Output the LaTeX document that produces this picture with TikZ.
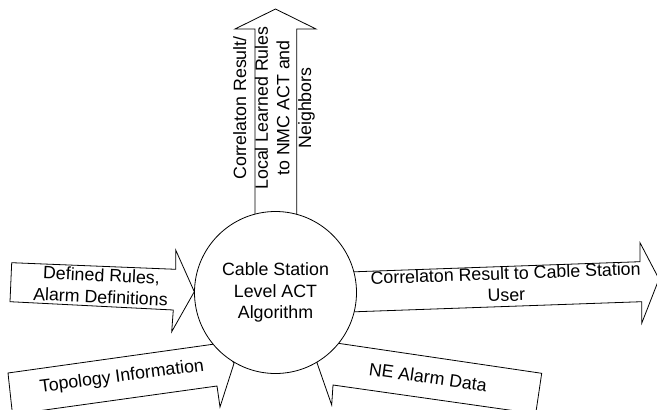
\documentclass[tikz,border=0pt]{standalone}
\usepackage{fontspec}
\setmainfont{Liberation Sans}

\begin{document}
\begin{tikzpicture}[x=1pt, y=-1pt,
    blockarrow/.style={draw, line width=0.8pt, line join=miter, fill=white},
    arrowtext/.style={align=center, font=\fontsize{17.8pt}{21.7pt}\selectfont}]
        \clip (0,0) rectangle (657,410);

        % Arrows into the algorithm
        \draw[blockarrow] (11.7,262.7) -- (175.7,269.3) -- (175.7,250) -- (194.3,291.7)
            -- (171.7,331.7) -- (173.3,310) -- (10,301.7) -- cycle;
        \draw[blockarrow] (8,373) -- (212.7,344.3) -- (210,326) -- (234,363.4)
            -- (220,407) -- (217,386) -- (12.5,414.5) -- cycle;
        \draw[blockarrow] (541.7,373.3) -- (338.3,343.3) -- (341.7,325) -- (316.9,362.5)
            -- (331.7,405) -- (333,385) -- (535.7,413.8) -- cycle;

        % Arrows out of the algorithm
        \draw[blockarrow] (255,240) -- (255,29) -- (235,29) -- (275.5,9)
            -- (316,29) -- (296.7,29) -- (296.7,240) -- cycle;
        \draw[blockarrow] (340,272.3) -- (640,261.7) -- (640,242.7) -- (659,279)
            -- (641.7,323.3) -- (641.7,301.7) -- (340,312.3) -- cycle;

        % Algorithm
        \node[draw, circle, line width=0.8pt, fill=white, minimum size=162pt, inner sep=0pt,
            arrowtext] (algo) at (275.5,292.5) {Cable Station\\Level ACT\\Algorithm};

        % Arrow labels
        \node[arrowtext, rotate=-2.5] (rules) at (101,286) {Defined Rules,\\Alarm Definitions};
        \node[arrowtext, rotate=7.5] (topology) at (122,377) {Topology Information};
        \node[arrowtext, rotate=-8] (alarms) at (428,377) {NE Alarm Data};
        \node[arrowtext, rotate=90] (learned) at (274,108)
            {Correlaton Result/\\Local Learned Rules\\to NMC ACT and\\Neighbors};
        \node[arrowtext, rotate=2] (result) at (506,284) {Correlaton Result to Cable Station\\User};
    \end{tikzpicture}
\end{document}
